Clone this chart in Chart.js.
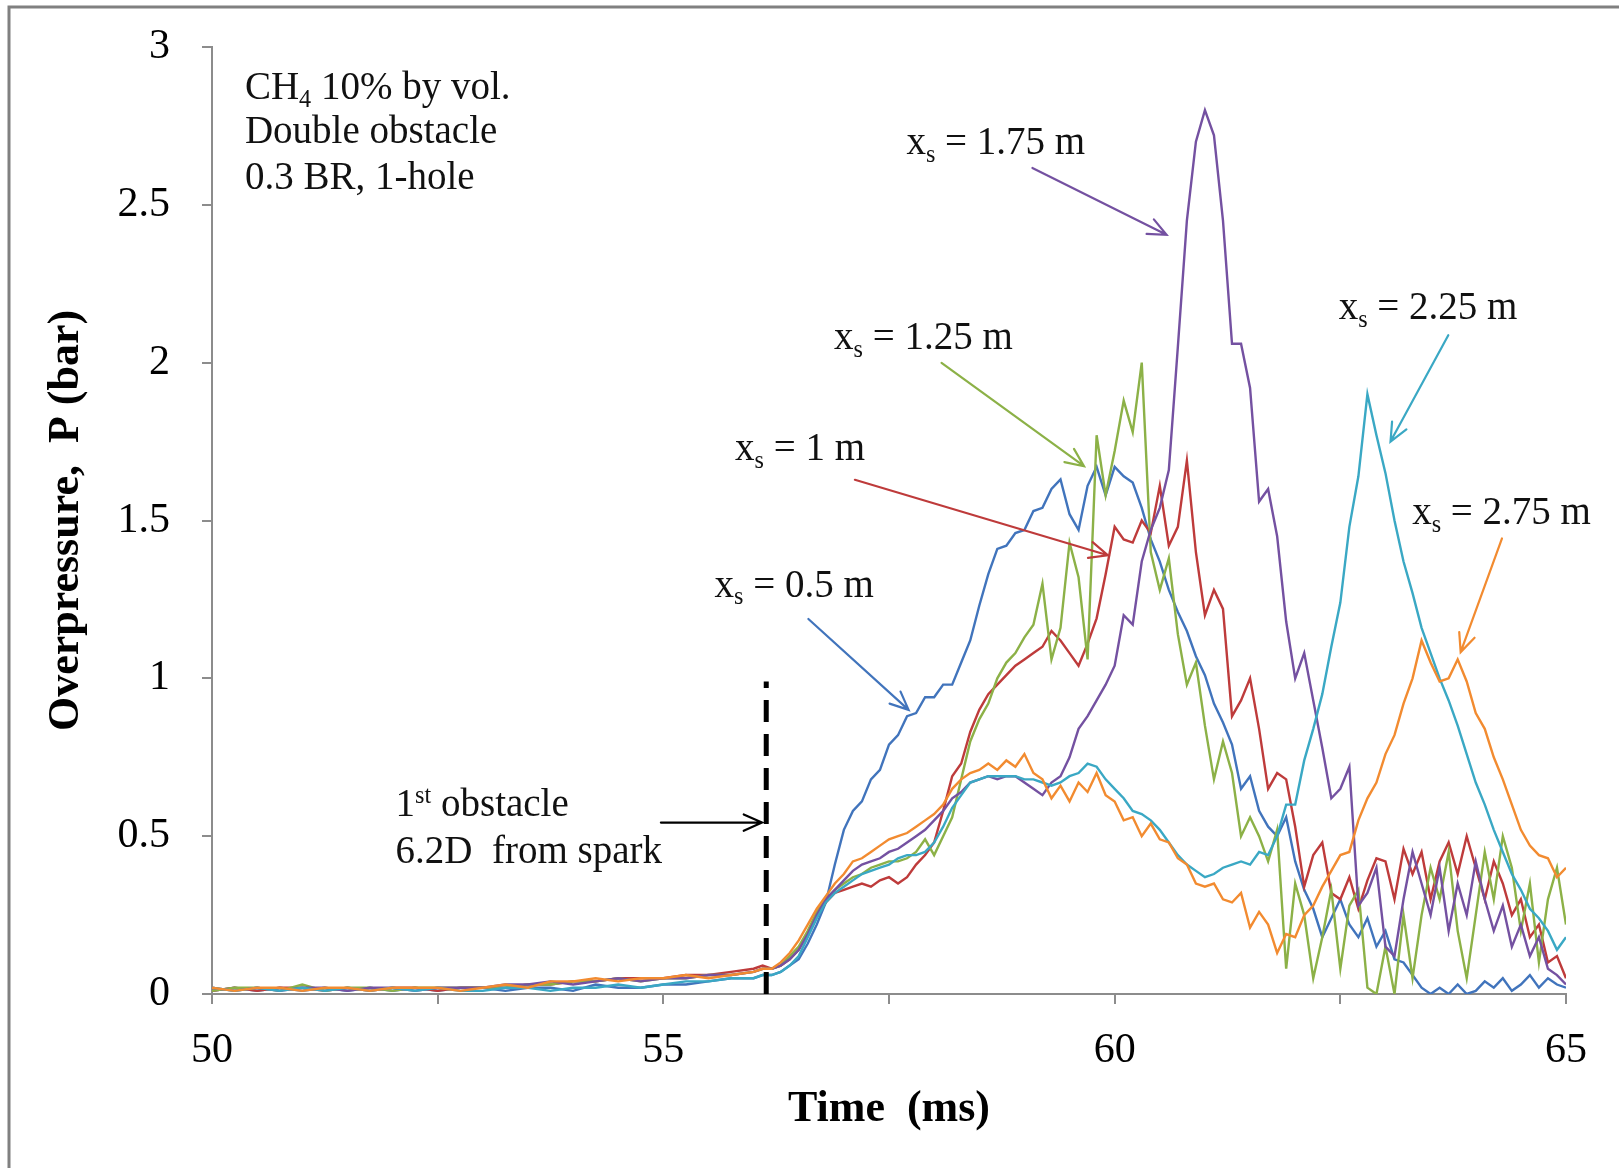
<!DOCTYPE html>
<html>
<head>
<meta charset="utf-8">
<script src="https://cdn.jsdelivr.net/npm/chart.js@4.4.1/dist/chart.umd.min.js"></script>
<style>
	body{margin:0;background:#fff;}
	#wrap{width:1619px;height:1168px;}
</style>
</head>
<body>
<div id="wrap"><canvas id="grafica" width="1619" height="1168"></canvas></div>
<script>
// time axis (ms)
var TIMES=[50,50.25,50.5,50.75,51,51.25,51.5,51.75,52,52.25,52.5,52.75,53,53.25,53.5,53.75,54,54.25,54.5,54.75,55,55.25,55.5,55.75,
	56,56.1,56.2,56.3,56.4,56.5,56.6,56.7,56.8,56.9,57,57.1,57.2,57.3,57.4,57.5,57.6,57.7,57.8,57.9,
	58,58.1,58.2,58.3,58.4,58.5,58.6,58.7,58.8,58.9,59,59.1,59.2,59.3,59.4,59.5,59.6,59.7,59.8,59.9,
	60,60.1,60.2,60.3,60.4,60.5,60.6,60.7,60.8,60.9,61,61.1,61.2,61.3,61.4,61.5,61.6,61.7,61.8,61.9,
	62,62.1,62.2,62.3,62.4,62.5,62.6,62.7,62.8,62.9,63,63.1,63.2,63.3,63.4,63.5,63.6,63.7,63.8,63.9,
	64,64.1,64.2,64.3,64.4,64.5,64.6,64.7,64.8,64.9,65];

// overpressure (bar) for each sensor position
var P_050=[0.01,0.02,0.01,0.02,0.01,0.02,0.01,0.02,0.01,0.02,0.01,0.02,0.02,0.01,0.02,0.02,0.01,0.03,0.02,0.02,0.03,0.03,0.04,0.05,
	0.05,0.06,0.06,0.07,0.09,0.11,0.16,0.22,0.29,0.41,0.52,0.58,0.61,0.68,0.71,0.79,0.82,0.88,0.89,0.94,
	0.94,0.98,0.98,1.05,1.12,1.23,1.33,1.41,1.42,1.46,1.47,1.53,1.54,1.60,1.63,1.52,1.47,1.61,1.67,1.58,
	1.67,1.64,1.62,1.54,1.44,1.37,1.28,1.21,1.15,1.07,1.01,0.92,0.86,0.79,0.65,0.69,0.58,0.53,0.50,0.56,
	0.42,0.33,0.27,0.18,0.24,0.30,0.22,0.18,0.24,0.15,0.20,0.11,0.10,0.06,0.02,0.00,0.02,0.00,0.03,0.00,
	0.01,0.04,0.02,0.05,0.01,0.03,0.06,0.02,0.05,0.03,0.02];
var P_100=[0.01,0.02,0.01,0.02,0.02,0.01,0.02,0.01,0.02,0.02,0.01,0.02,0.02,0.02,0.03,0.03,0.04,0.04,0.05,0.05,0.05,0.06,0.06,0.07,
	0.08,0.09,0.08,0.09,0.11,0.14,0.19,0.25,0.29,0.32,0.33,0.34,0.35,0.34,0.36,0.37,0.35,0.37,0.41,0.44,
	0.48,0.58,0.69,0.73,0.83,0.90,0.95,0.98,1.01,1.04,1.06,1.08,1.10,1.15,1.12,1.08,1.04,1.11,1.19,1.33,
	1.48,1.44,1.43,1.50,1.46,1.61,1.42,1.48,1.69,1.40,1.20,1.28,1.22,0.88,0.93,1.00,0.84,0.65,0.70,0.68,
	0.53,0.34,0.44,0.48,0.32,0.30,0.37,0.27,0.36,0.43,0.42,0.30,0.46,0.38,0.45,0.30,0.42,0.48,0.38,0.50,
	0.40,0.30,0.42,0.35,0.25,0.30,0.18,0.22,0.10,0.12,0.05];
var P_125=[0.01,0.02,0.02,0.01,0.03,0.01,0.02,0.02,0.01,0.02,0.02,0.02,0.02,0.02,0.03,0.03,0.04,0.04,0.05,0.04,0.05,0.05,0.06,0.06,
	0.07,0.08,0.08,0.09,0.12,0.15,0.20,0.26,0.30,0.33,0.35,0.37,0.38,0.40,0.41,0.42,0.42,0.43,0.45,0.49,
	0.44,0.50,0.56,0.68,0.80,0.87,0.92,1.00,1.05,1.08,1.13,1.17,1.30,1.06,1.16,1.43,1.32,1.06,1.77,1.58,
	1.72,1.88,1.78,2.00,1.40,1.28,1.38,1.14,0.98,1.05,0.85,0.68,0.80,0.70,0.50,0.56,0.50,0.42,0.52,0.08,
	0.35,0.25,0.05,0.18,0.33,0.08,0.28,0.33,0.02,0.00,0.15,0.00,0.25,0.05,0.25,0.40,0.30,0.45,0.20,0.05,
	0.25,0.45,0.30,0.50,0.40,0.20,0.35,0.10,0.30,0.40,0.22];
var P_175=[0.02,0.01,0.02,0.01,0.02,0.02,0.01,0.02,0.02,0.01,0.02,0.02,0.02,0.03,0.03,0.04,0.03,0.04,0.05,0.04,0.05,0.05,0.06,0.06,
	0.07,0.08,0.08,0.09,0.11,0.14,0.19,0.25,0.30,0.33,0.36,0.39,0.41,0.42,0.43,0.45,0.46,0.48,0.50,0.52,
	0.55,0.58,0.62,0.64,0.67,0.68,0.69,0.68,0.69,0.69,0.67,0.65,0.63,0.67,0.69,0.75,0.84,0.88,0.93,0.98,
	1.04,1.20,1.17,1.37,1.47,1.54,1.66,2.05,2.45,2.70,2.80,2.72,2.45,2.06,2.06,1.92,1.56,1.60,1.45,1.18,
	1.00,1.08,0.93,0.78,0.62,0.65,0.72,0.28,0.32,0.40,0.15,0.12,0.30,0.45,0.35,0.25,0.40,0.20,0.35,0.25,
	0.42,0.30,0.20,0.28,0.15,0.22,0.12,0.18,0.08,0.06,0.03];
var P_225=[0.02,0.01,0.02,0.01,0.02,0.01,0.02,0.01,0.02,0.01,0.02,0.01,0.01,0.02,0.02,0.01,0.02,0.02,0.03,0.02,0.03,0.04,0.04,0.05,
	0.05,0.06,0.06,0.07,0.09,0.12,0.18,0.24,0.29,0.32,0.34,0.36,0.38,0.39,0.40,0.41,0.43,0.44,0.44,0.45,
	0.48,0.53,0.59,0.63,0.67,0.68,0.69,0.69,0.69,0.69,0.68,0.68,0.67,0.66,0.67,0.69,0.70,0.73,0.72,0.68,
	0.65,0.62,0.58,0.57,0.55,0.52,0.48,0.44,0.41,0.39,0.37,0.38,0.40,0.41,0.42,0.41,0.45,0.44,0.50,0.60,
	0.60,0.74,0.84,0.95,1.10,1.24,1.48,1.64,1.90,1.77,1.65,1.50,1.37,1.27,1.16,1.08,1.00,0.93,0.85,0.76,
	0.67,0.60,0.52,0.45,0.38,0.33,0.27,0.24,0.20,0.14,0.18];
var P_275=[0.02,0.01,0.02,0.02,0.01,0.02,0.02,0.01,0.02,0.02,0.02,0.01,0.02,0.03,0.02,0.04,0.04,0.05,0.04,0.05,0.05,0.06,0.05,0.06,
	0.07,0.08,0.08,0.10,0.13,0.17,0.22,0.27,0.31,0.35,0.38,0.42,0.43,0.45,0.47,0.49,0.50,0.51,0.53,0.55,
	0.57,0.60,0.65,0.68,0.70,0.71,0.73,0.71,0.74,0.72,0.76,0.70,0.68,0.62,0.66,0.61,0.67,0.64,0.70,0.63,
	0.61,0.55,0.56,0.50,0.54,0.49,0.48,0.43,0.41,0.35,0.34,0.35,0.30,0.29,0.32,0.21,0.26,0.22,0.13,0.19,
	0.18,0.25,0.28,0.34,0.39,0.44,0.45,0.55,0.62,0.67,0.76,0.82,0.92,1.00,1.12,1.05,0.99,1.00,1.06,0.99,
	0.89,0.84,0.75,0.68,0.60,0.52,0.47,0.44,0.43,0.37,0.40];

// first obstacle marker
var OBSTACLE_T=[56.14,56.14];
var OBSTACLE_P=[0,0.99];

var SERIES_NAMES=['xs = 0.5 m','xs = 1 m','xs = 1.25 m','xs = 1.75 m','xs = 2.25 m','xs = 2.75 m'];
var SERIES_DATA=[P_050,P_100,P_125,P_175,P_225,P_275];
var COLORS=['#4174BC','#BE3B3B','#8CB147','#7451A1','#3AA8C4','#F28B30'];

var FONT='"Liberation Serif", "Times New Roman", serif';

function toPoints(xs,ys){
	var out=new Array();
	for(var i=0;i<ys.length;i++){
		out.push({x:xs[i],y:ys[i]});
	}
	return out;
}

// text notes and arrows, placed in axis units
var NOTES=[
	{t:50.365,p:2.872,runs:[['CH'],['4','sub'],[' 10% by vol.']]},
	{t:50.365,p:2.732,runs:[['Double obstacle']]},
	{t:50.365,p:2.588,runs:[['0.3 BR, 1-hole']]},
	{t:57.693,p:2.699,runs:[['x'],['s','sub'],[' = 1.75 m']]},
	{t:56.891,p:2.081,runs:[['x'],['s','sub'],[' = 1.25 m']]},
	{t:62.482,p:2.176,runs:[['x'],['s','sub'],[' = 2.25 m']]},
	{t:55.794,p:1.728,runs:[['x'],['s','sub'],[' = 1 m']]},
	{t:63.296,p:1.525,runs:[['x'],['s','sub'],[' = 2.75 m']]},
	{t:55.567,p:1.296,runs:[['x'],['s','sub'],[' = 0.5 m']]},
	{t:52.034,p:0.602,runs:[['1'],['st','sup'],[' obstacle']]},
	{t:52.034,p:0.452,runs:[['6.2D  from spark']]}
];
var ARROWS=[
	{c:3,from:[59.089,2.617],to:[60.575,2.405]},
	{c:2,from:[58.082,1.999],to:[59.660,1.672]},
	{c:4,from:[63.696,2.087],to:[63.056,1.750]},
	{c:1,from:[57.122,1.629],to:[59.924,1.390]},
	{c:5,from:[64.291,1.443],to:[63.833,1.083]},
	{c:0,from:[56.607,1.188],to:[57.717,0.900]},
	{c:-1,from:[54.973,0.543],to:[56.093,0.543]}
];

function drawRuns(ctx,runs,x,y,size){
	var cx=x;
	for(var i=0;i<runs.length;i++){
		var r=runs[i];
		var small=(r[1]=='sub'||r[1]=='sup');
		var fs=small?size*0.62:size;
		var dy=r[1]=='sub'?size*0.2:(r[1]=='sup'?-size*0.33:0);
		ctx.font=fs+'px '+FONT;
		ctx.fillText(r[0],cx,y+dy);
		cx+=ctx.measureText(r[0]).width;
	}
}

var notesPlugin={
	id:'notes',
	beforeDraw:function(chart){
		var ctx=chart.ctx;
		ctx.save();
		ctx.fillStyle='#fff';
		ctx.fillRect(0,0,chart.width,chart.height);
		ctx.restore();
	},
	afterDraw:function(chart){
		var ctx=chart.ctx;
		var sx=chart.scales.x, sy=chart.scales.y;
		ctx.save();
		ctx.fillStyle='#111';
		ctx.textBaseline='alphabetic';
		ctx.textAlign='left';
		var size=39;
		for(var i=0;i<NOTES.length;i++){
			var n=NOTES[i];
			drawRuns(ctx,n.runs,sx.getPixelForValue(n.t),sy.getPixelForValue(n.p)+size*0.3,size);
		}
		for(var j=0;j<ARROWS.length;j++){
			var a=ARROWS[j];
			var x1=sx.getPixelForValue(a.from[0]), y1=sy.getPixelForValue(a.from[1]);
			var x2=sx.getPixelForValue(a.to[0]), y2=sy.getPixelForValue(a.to[1]);
			var ang=Math.atan2(y2-y1,x2-x1);
			var hl=20, hw=0.42;
			ctx.strokeStyle=a.c<0?'#000':COLORS[a.c];
			ctx.lineWidth=2.2;
			ctx.lineCap='round';
			ctx.beginPath();
			ctx.moveTo(x1,y1);
			ctx.lineTo(x2,y2);
			ctx.moveTo(x2-hl*Math.cos(ang-hw),y2-hl*Math.sin(ang-hw));
			ctx.lineTo(x2,y2);
			ctx.lineTo(x2-hl*Math.cos(ang+hw),y2-hl*Math.sin(ang+hw));
			ctx.stroke();
		}
		// picture frame
		ctx.strokeStyle='#808080';
		ctx.lineWidth=3;
		ctx.beginPath();
		ctx.moveTo(9,chart.height);
		ctx.lineTo(9,7);
		ctx.lineTo(chart.width,7);
		ctx.stroke();
		ctx.restore();
	}
};

var datasets=new Array();
for(var k=0;k<SERIES_DATA.length;k++){
	datasets.push({
		label:SERIES_NAMES[k],
		data:toPoints(TIMES,SERIES_DATA[k]),
		borderColor:COLORS[k],
		backgroundColor:COLORS[k],
		borderWidth:2.4,
		pointRadius:0,
		tension:0,
		fill:false,
		order:SERIES_DATA.length-k
	});
}
datasets.push({
	label:'1st obstacle',
	data:toPoints(OBSTACLE_T,OBSTACLE_P),
	borderColor:'#000',
	borderWidth:5,
	borderDash:[22,12],
	pointRadius:0,
	fill:false,
	order:0
});

var config={
	type:'line',
	data:{datasets:datasets},
	options:{
		responsive:false,
		animation:false,
		layout:{padding:{top:47,right:53,bottom:0,left:0}},
		plugins:{legend:{display:false},tooltip:{enabled:false}},
		scales:{
			x:{
				type:'linear',min:50,max:65,
				afterFit:function(s){s.height=174;},
				border:{color:'#8c8c8c',width:2},
				grid:{drawOnChartArea:false,tickLength:10,color:'#8c8c8c',lineWidth:2},
				ticks:{stepSize:2.5,autoSkip:false,maxRotation:0,padding:22,color:'#000',
					font:{family:FONT,size:42},
					callback:function(v){return v%5===0?String(v):'';}},
				title:{display:true,text:'Time  (ms)',color:'#000',
					font:{family:FONT,size:44,weight:'bold'},padding:{top:0,bottom:32}}
			},
			y:{
				type:'linear',min:0,max:3,
				afterFit:function(s){s.width=212;s.paddingTop=0;s.paddingBottom=0;},
				border:{color:'#8c8c8c',width:2},
				grid:{drawOnChartArea:false,tickLength:10,color:'#8c8c8c',lineWidth:2},
				ticks:{stepSize:0.5,padding:32,color:'#000',
					font:{family:FONT,size:42},
					callback:function(v){return String(v);}},
				title:{display:true,text:'Overpressure,  P (bar)',color:'#000',
					font:{family:FONT,size:44,weight:'bold'},padding:{top:40,bottom:0}}
			}
		}
	},
	plugins:[notesPlugin]
};

var canvas=document.getElementById('grafica').getContext('2d');
new Chart(canvas,config);
</script>
</body>
</html>
